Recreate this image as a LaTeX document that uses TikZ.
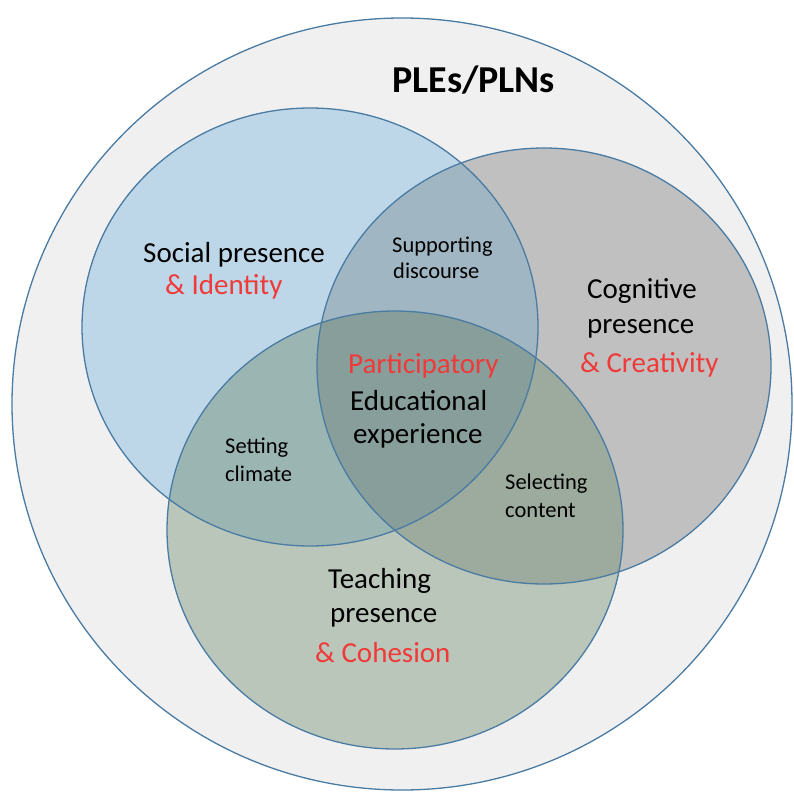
\documentclass[tikz,border=0pt]{standalone}
\usepackage{fontspec}
\setmainfont{Carlito}
\definecolor{outerbg}{HTML}{F0F0F0}
\definecolor{edgeblue}{HTML}{4A7BA3}
\definecolor{cS}{HTML}{BED7E8}
\definecolor{cC}{HTML}{C0C0C0}
\definecolor{cT}{HTML}{BAC6BA}
\definecolor{cSC}{HTML}{A1B6C3}
\definecolor{cST}{HTML}{9BB5B3}
\definecolor{cCT}{HTML}{9CAB9D}
\definecolor{cAll}{HTML}{879E9A}
\definecolor{redtxt}{HTML}{F03A3A}
\begin{document}
\begin{tikzpicture}[x=1pt,y=-1pt,
  pathO/.style={insert path={(402,404) ellipse [x radius=390pt, y radius=386pt]}},
  pathS/.style={insert path={(310,327) ellipse [x radius=228pt, y radius=219pt]}},
  pathC/.style={insert path={(544,366) ellipse [x radius=227pt, y radius=218pt]}},
  pathT/.style={insert path={(395,530) ellipse [x radius=228pt, y radius=219pt]}},
  edge/.style={draw=edgeblue, line width=1.3pt},
  lbl/.style={inner sep=0pt, anchor=base west, text=black, font=\fontsize{29}{35}\selectfont},
  redlbl/.style={lbl, text=redtxt},
  smalllbl/.style={lbl, font=\fontsize{22.5}{27}\selectfont},
  titlelbl/.style={lbl, font=\fontsize{38}{44}\selectfont\bfseries}]
\useasboundingbox (0,0) rectangle (794,792);
\fill[white] (0,0) rectangle (794,792);
% outer circle
\fill[outerbg, pathO];
% three circles
\fill[cS, pathS];
\fill[cC, pathC];
\fill[cT, pathT];
\begin{scope}
  \clip[pathS];
  \fill[cSC, pathC];
  \fill[cST, pathT];
\end{scope}
\begin{scope}
  \clip[pathC];
  \fill[cCT, pathT];
\end{scope}
\begin{scope}
  \clip[pathS];
  \clip[pathC];
  \fill[cAll, pathT];
\end{scope}
% borders
\draw[edge, pathO];
\draw[edge, pathS];
\draw[edge, pathC];
\draw[edge, pathT];
% texts
\node[titlelbl] (title) at (392,92) {PLEs/PLNs};
\node[lbl] (soc1) at (143,262) {Social presence};
\node[redlbl] (soc2) at (165,294) {\& Identity};
\node[lbl] (cog1) at (587,298) {Cognitive};
\node[lbl] (cog2) at (587,333) {presence};
\node[redlbl] (cog3) at (580,372) {\& Creativity};
\node[redlbl] (mid1) at (348,373) {Participatory};
\node[lbl] (mid2) at (350,410) {Educational};
\node[lbl] (mid3) at (353,443) {experience};
\node[lbl] (tea1) at (328,588) {Teaching};
\node[lbl] (tea2) at (330,622) {presence};
\node[redlbl] (tea3) at (315,662) {\& Cohesion};
\node[smalllbl] (sup1) at (392,252) {Supporting};
\node[smalllbl] (sup2) at (393,278) {discourse};
\node[smalllbl] (set1) at (225,453) {Setting};
\node[smalllbl] (set2) at (225,481) {climate};
\node[smalllbl] (sel1) at (505,489) {Selecting};
\node[smalllbl] (sel2) at (505,517) {content};
\end{tikzpicture}
\end{document}
